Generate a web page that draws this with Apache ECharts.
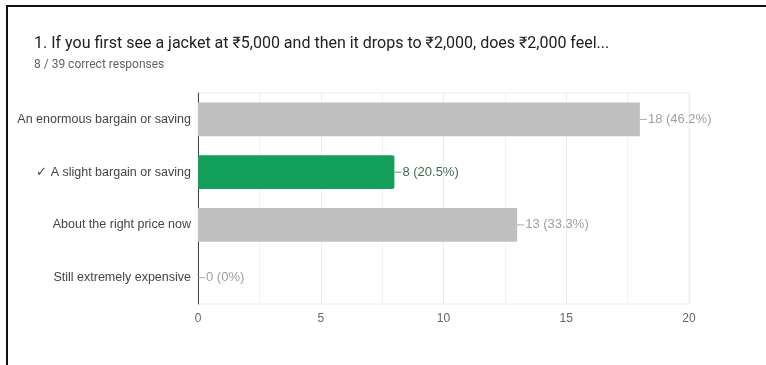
<!DOCTYPE html>
<html>
<head>
<meta charset="utf-8">
<script src="https://cdn.jsdelivr.net/npm/echarts@6/dist/echarts.min.js"></script>
<style>
  html, body { margin: 0; padding: 0; background: #fff; }
  #frame { position: absolute; left: 6px; top: 5px; right: 0; bottom: 0;
           border-left: 2px solid #111; border-top: 2px solid #111; }
  #chart { position: absolute; left: 0; top: 0; width: 766px; height: 365px; }
</style>
</head>
<body>
<div id="frame"></div>
<div id="chart"></div>
<script>
// Responses to question 1
const categories = [
  'An enormous bargain or saving',
  '✓ A slight bargain or saving',
  'About the right price now',
  'Still extremely expensive'
];
const counts = [18, 8, 13, 0];
const correctIndex = 1;
const totalResponses = 39;
const xTicks = [0, 5, 10, 15, 20];

const GREY = '#c0c0c0';
const GREEN = '#14a05a';

const chart = echarts.init(document.getElementById('chart'), null, { renderer: 'canvas' });

const pct = v => {
  const p = Math.round(v / totalResponses * 1000) / 10;
  return (p === Math.round(p) ? Math.round(p) : p.toFixed(1)) + '%';
};

chart.setOption({
  animation: false,
  title: {
    text: '1. If you first see a jacket at ₹5,000 and then it drops to ₹2,000, does ₹2,000 feel...',
    subtext: counts[correctIndex] + ' / ' + totalResponses + ' correct responses',
    left: 29,
    top: 31,
    itemGap: 7,
    textStyle: { fontFamily: 'Roboto', fontSize: 16, fontWeight: 'normal', color: '#202124' },
    subtextStyle: { fontFamily: 'Roboto', fontSize: 12, color: '#5f6368' }
  },
  grid: {
    left: 198, right: 77, top: 93, bottom: 61,
    show: true, borderColor: '#ececec', borderWidth: 1
  },
  xAxis: {
    type: 'value',
    min: xTicks[0],
    max: xTicks[xTicks.length - 1],
    interval: 5,
    axisLine: { show: false },
    axisTick: { show: false },
    axisLabel: { color: '#666', fontFamily: 'Liberation Sans', fontSize: 12, margin: 9 },
    splitLine: { lineStyle: { color: '#ececec' } },
    minorTick: { show: false, splitNumber: 2 },
    minorSplitLine: { show: true, lineStyle: { color: '#f2f2f2' } }
  },
  yAxis: {
    type: 'category',
    inverse: true,
    data: categories,
    axisLine: { lineStyle: { color: '#444', width: 1 } },
    axisTick: { show: false },
    axisLabel: { color: '#444', fontFamily: 'Liberation Sans', fontSize: 12.5, margin: 7 }
  },
  series: [{
    type: 'bar',
    barCategoryGap: '36%',
    data: counts.map((v, i) => ({
      value: v,
      itemStyle: { color: i === correctIndex ? GREEN : GREY, borderRadius: i === correctIndex ? [0, 2, 2, 0] : 0 },
      label: {
        rich: {
          ln: { width: 7, height: 1, backgroundColor: i === correctIndex ? '#5f8f72' : '#aaa' },
          t: { color: i === correctIndex ? '#3d6b50' : '#a0a0a0', fontFamily: 'Liberation Sans', fontSize: 13, padding: [0, 0, 0, 1] }
        }
      }
    })),
    label: {
      show: true,
      position: 'right',
      distance: 0,
      formatter: p => '{ln|}{t|' + p.value + ' (' + pct(p.value) + ')}'
    }
  }]
});
</script>
</body>
</html>
